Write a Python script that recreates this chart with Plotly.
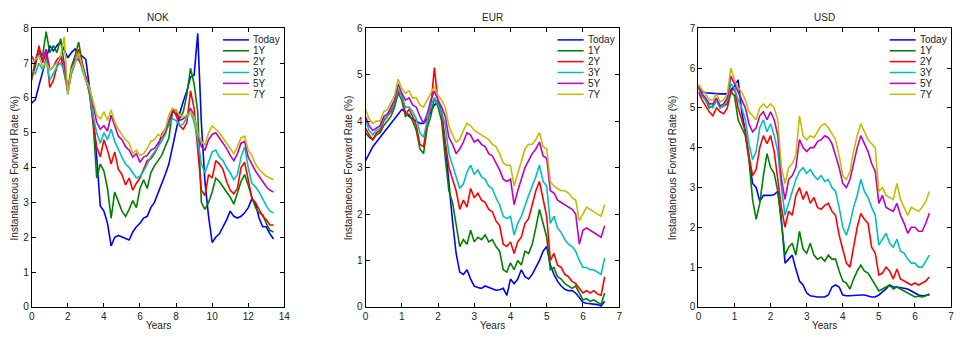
import numpy as np
import plotly.graph_objects as go

# ---------------- data ----------------
series_names = ["Today", "1Y", "2Y", "3Y", "5Y", "7Y"]
series_colors = ["#0000ff", "#008000", "#ff0000", "#00bfbf", "#bf00bf", "#bfbf00"]

panel_titles = ["NOK", "EUR", "USD"]

nok_years = [round(0.2 * i, 1) for i in range(68)]
nok_today = [5.85, 5.95, 6.35, 6.75, 7.15, 7.5, 7.35, 7.5, 7.6, 7.35,
             7.15, 7.3, 7.4, 7.25, 7.2, 7.1, 6.3, 5.5, 4.3, 2.9,
             2.75, 2.4, 1.75, 2.0, 2.05, 2.0, 1.95, 1.92, 2.15, 2.3,
             2.4, 2.55, 2.6, 2.85, 3.0, 3.25, 3.5, 3.8, 4.1, 4.6,
             5.0, 5.55, 5.9, 6.2, 6.6, 6.65, 7.85, 5.3, 3.6, 2.6,
             1.85, 2.0, 2.1, 2.3, 2.5, 2.75, 2.6, 2.55, 2.6, 2.7,
             2.85, 3.1, 2.95, 2.55, 2.3, 2.3, 2.1, 1.95]
nok_1y = [6.5, 7.1, 7.4, 7.2, 7.9, 7.3, 7.5, 7.3, 7.7, 6.9,
          6.2, 6.9, 7.2, 7.6, 7.0, 6.6, 6.1, 5.3, 3.7, 4.1,
          3.9, 3.4, 2.55, 3.3, 3.0, 2.75, 2.6, 2.8, 3.05, 2.85,
          3.4, 3.65, 3.4, 3.85, 4.05, 4.2, 4.35, 4.6, 4.85, 5.6,
          5.55, 5.4, 5.6, 6.1, 6.85, 6.4, 5.6, 3.0, 2.8, 3.0,
          3.3, 3.7, 3.6, 3.45, 3.3, 3.15, 2.95, 3.3, 3.6, 3.8,
          3.5, 3.2, 2.85, 2.7, 2.65, 2.4, 2.2, 2.15]
nok_2y = [6.6, 6.9, 7.5, 7.0, 7.3, 6.3, 6.5, 6.9, 7.2, 6.7,
          6.2, 6.7, 7.0, 7.4, 6.9, 6.5, 6.2, 5.3, 4.6, 4.3,
          4.8, 4.5, 4.1, 4.45, 3.95, 3.8, 3.5, 3.7, 3.35, 3.55,
          3.7, 3.95, 4.2, 4.25, 4.4, 4.6, 4.95, 5.1, 5.2, 5.7,
          5.5, 5.2, 5.1, 5.3, 6.2, 5.7, 4.6, 3.35, 3.2, 3.8,
          3.7, 4.2, 4.1, 3.95, 3.6, 3.35, 3.25, 3.4, 4.0, 4.15,
          3.65, 3.1, 3.0, 2.8, 2.6, 2.5, 2.35, 2.35]
nok_3y = [6.8, 6.7, 7.0, 6.8, 7.1, 6.5, 6.7, 6.9, 7.0, 6.8,
          6.1, 6.7, 7.0, 7.2, 6.8, 6.5, 6.2, 5.5, 5.0, 4.7,
          5.0, 4.8, 5.1, 4.75, 4.5, 4.3, 4.1, 4.0, 3.85, 3.7,
          3.75, 3.9, 4.1, 4.3, 4.45, 4.6, 4.75, 4.95, 5.25, 5.4,
          5.35, 5.2, 5.25, 5.45, 5.6, 5.3, 4.8, 4.1, 3.85, 4.15,
          4.45, 4.5, 4.3, 4.2, 4.0, 3.85, 3.65, 3.8, 4.3, 4.6,
          4.0, 3.55, 3.45, 3.3, 3.1, 2.9, 2.75, 2.7]
nok_5y = [7.2, 7.0, 7.3, 7.1, 7.4, 6.8, 6.9, 7.1, 7.2, 7.0,
          6.2, 6.8, 7.1, 7.1, 6.9, 6.6, 6.3, 5.8, 5.3, 5.1,
          5.2, 5.05, 5.5, 5.2, 4.9, 4.8, 4.6, 4.5, 4.3, 4.4,
          4.15, 4.3, 4.35, 4.5, 4.55, 4.7, 4.85, 5.0, 5.35, 5.6,
          5.65, 5.35, 5.4, 5.5, 5.7, 5.5, 5.0, 4.6, 4.5, 4.8,
          4.95, 5.0, 4.85, 4.7, 4.55, 4.35, 4.2, 4.4, 4.7, 4.75,
          4.3, 4.1, 3.9, 3.75, 3.6, 3.45, 3.35, 3.3]
nok_7y = [7.0, 7.1, 7.2, 6.9, 7.0, 6.8, 6.9, 7.0, 7.2, 7.75,
          6.1, 6.8, 7.0, 7.3, 6.9, 6.5, 6.3, 5.9, 5.5, 5.4,
          5.6, 5.35, 5.65, 5.3, 5.1, 4.95, 4.8, 4.7, 4.4, 4.5,
          4.35, 4.4, 4.55, 4.75, 4.8, 4.95, 4.9, 5.1, 5.5, 5.7,
          5.65, 5.5, 5.45, 5.5, 5.6, 5.45, 5.0, 4.75, 4.65, 5.0,
          5.2, 5.1, 5.0, 4.85, 4.7, 4.55, 4.4, 4.6, 4.85, 4.9,
          4.5, 4.35, 4.1, 3.95, 3.85, 3.75, 3.7, 3.65]

eur_years = [round(0.1 * i, 1) for i in range(67)]
eur_today = [3.15, 3.3, 3.45, 3.55, 3.65, 3.75, 3.85, 3.95, 4.05, 4.15,
             4.25, 4.2, 4.1, 4.05, 4.0, 3.95, 3.95, 4.05, 4.2, 4.35,
             4.4, 4.2, 3.5, 2.6, 1.85, 1.15, 0.75, 0.7, 0.8, 0.6,
             0.45, 0.42, 0.4, 0.45, 0.42, 0.38, 0.36, 0.37, 0.4, 0.25,
             0.6, 0.5, 0.6, 0.8, 0.65, 0.6, 0.7, 0.85, 1.0, 1.2,
             1.3, 0.9, 0.7, 0.55, 0.45, 0.38, 0.35, 0.35, 0.3, 0.2,
             0.1, 0.08, 0.07, 0.06, 0.05, 0.02, 0.12]
eur_1y = [3.75, 3.65, 3.6, 3.7, 3.75, 3.9, 4.0, 4.1, 4.3, 4.6,
          4.45, 4.1, 4.15, 4.0, 3.8, 3.4, 3.3, 3.85, 4.1, 4.5,
          4.3, 4.0, 3.2, 2.5, 2.25, 1.75, 1.3, 1.45, 1.35, 1.65,
          1.4, 1.5, 1.45, 1.55, 1.4, 1.45, 1.3, 1.2, 0.8, 0.75,
          0.95, 0.8, 1.0, 0.9, 1.2, 1.15, 1.35, 1.7, 2.1, 1.8,
          1.5, 0.8, 0.85, 0.65, 0.6, 0.5, 0.45, 0.4, 0.45, 0.3,
          0.15, 0.18, 0.12, 0.15, 0.1, 0.05, 0.3]
eur_2y = [3.85, 3.7, 3.6, 3.75, 3.8, 4.0, 4.1, 4.2, 4.4, 4.65,
          4.55, 4.15, 4.25, 4.1, 3.9, 3.5, 3.45, 3.95, 4.3, 5.15,
          4.4, 4.15, 3.55, 3.0, 2.75, 2.5, 2.1, 2.3, 2.15, 2.55,
          2.35, 2.45, 2.3, 2.25, 2.1, 2.05, 1.85, 1.75, 1.35, 1.3,
          1.4, 1.15, 1.4, 1.5, 1.8, 1.9, 2.2, 2.5, 2.7, 2.3,
          1.95, 1.0, 1.15, 0.9, 0.85, 0.7, 0.65, 0.55, 0.5, 0.4,
          0.3, 0.35, 0.3, 0.35, 0.28, 0.25, 0.65]
eur_3y = [4.0, 3.8, 3.7, 3.8, 3.85, 4.05, 4.1, 4.25, 4.4, 4.7,
          4.55, 4.3, 4.3, 4.2, 4.05, 3.75, 3.65, 4.0, 4.35, 4.5,
          4.35, 4.2, 3.9, 3.3, 3.05, 2.8, 2.55, 2.65, 2.9, 3.05,
          2.85, 2.95, 2.8, 2.75, 2.6, 2.55, 2.35, 2.2, 1.95, 1.9,
          1.95, 1.55, 1.8, 1.95, 2.2, 2.4, 2.6, 2.8, 3.05, 2.7,
          2.6, 1.8, 1.95, 1.7, 1.6, 1.45, 1.35, 1.3, 1.2, 1.0,
          0.85, 0.85, 0.8, 0.8, 0.75, 0.7, 1.05]
eur_5y = [4.1, 3.9, 3.8, 3.85, 3.9, 4.1, 4.15, 4.3, 4.45, 4.8,
          4.6, 4.45, 4.5, 4.35, 4.3, 4.1, 3.95, 4.15, 4.45, 4.65,
          4.45, 4.3, 4.1, 3.65, 3.5, 3.3, 3.4, 3.55, 3.75, 3.7,
          3.55, 3.6, 3.5, 3.45, 3.3, 3.25, 3.1, 2.95, 2.75, 2.7,
          2.75, 2.2, 2.5, 2.75, 3.0, 3.15, 3.3, 3.4, 3.55, 3.25,
          3.2, 2.5, 2.45, 2.3, 2.25, 2.2, 2.15, 2.1, 2.0, 1.35,
          1.65, 1.7, 1.65, 1.6, 1.55, 1.5, 1.75]
eur_7y = [4.25, 4.05, 3.95, 4.0, 4.0, 4.2, 4.25, 4.4, 4.55, 4.9,
          4.7, 4.6, 4.65, 4.5, 4.5, 4.35, 4.3, 4.45, 4.6, 4.75,
          4.55, 4.45, 4.3, 3.9, 3.7, 3.55, 3.6, 3.8, 3.95, 3.9,
          3.8, 3.75, 3.7, 3.65, 3.6, 3.5, 3.45, 3.3, 3.1, 3.05,
          3.05, 2.6, 2.85, 3.1, 3.4, 3.5, 3.5, 3.6, 3.75, 3.45,
          3.4, 2.7, 2.6, 2.55, 2.5, 2.5, 2.45, 2.35, 2.3, 1.85,
          2.0, 2.15, 2.1, 2.05, 2.0, 1.95, 2.2]

usd_years = [round(0.1 * i, 1) for i in range(65)]
usd_today = [5.55, 5.4, 5.38, 5.37, 5.36, 5.36, 5.35, 5.35, 5.35, 5.45,
             5.55, 5.7, 4.9, 4.4, 3.7, 3.1, 3.0, 2.65, 2.8, 2.8,
             2.8, 2.82, 2.9, 2.2, 1.1, 1.2, 1.3, 0.95, 0.65, 0.55,
             0.35, 0.28, 0.26, 0.25, 0.25, 0.25, 0.3, 0.5, 0.55, 0.5,
             0.3, 0.28, 0.28, 0.29, 0.3, 0.3, 0.3, 0.28, 0.25, 0.25,
             0.3, 0.38, 0.45, 0.55, 0.5, 0.5, 0.48, 0.47, 0.45, 0.4,
             0.35, 0.3, 0.28, 0.29, 0.3]
usd_1y = [5.5, 5.3, 5.2, 5.0, 5.05, 5.2, 5.0, 5.05, 5.1, 5.4,
          5.3, 4.7, 4.5, 4.3, 3.7, 2.7, 2.2, 2.6, 3.3, 3.85,
          3.5, 3.35, 2.9, 2.1, 1.3, 1.5, 1.6, 1.3, 1.9, 1.45,
          1.35, 1.6, 1.3, 1.2, 1.25, 1.15, 1.3, 1.2, 1.2, 0.9,
          0.65, 0.6, 0.45, 0.7, 0.9, 1.05, 0.9, 0.85, 0.7, 0.55,
          0.4, 0.45, 0.5, 0.55, 0.45, 0.5, 0.45, 0.4, 0.35, 0.3,
          0.25, 0.27, 0.25, 0.28, 0.33]
usd_2y = [5.4, 5.2, 5.05, 4.9, 4.8, 5.0, 4.9, 4.85, 5.0, 5.4,
          5.5, 5.0, 4.7, 4.4, 3.8, 3.3, 3.45, 4.0, 4.3, 4.1,
          4.3, 3.9, 3.2, 2.5, 2.0, 2.4, 2.3, 2.8, 3.0, 2.7,
          2.9, 2.6, 2.75, 2.5, 2.45, 2.55, 2.6, 2.4, 2.3, 1.8,
          1.45, 1.1, 1.0, 1.5, 2.0, 2.35, 2.2, 2.1, 1.5, 1.35,
          0.8, 0.85, 1.0, 0.9, 0.7, 0.95, 0.7, 0.65, 0.6, 0.55,
          0.6, 0.55, 0.6, 0.65, 0.75]
usd_3y = [5.5, 5.3, 5.2, 5.05, 5.0, 5.2, 5.0, 5.05, 5.2, 5.6,
          5.5, 5.2, 5.0, 4.7, 4.1, 3.7, 3.9, 4.5, 4.7, 4.4,
          4.6, 4.3, 3.9, 3.0, 2.3, 2.6, 2.9, 3.2, 3.4, 3.5,
          3.35, 3.45, 3.3, 3.2, 3.3, 3.15, 3.2, 3.0, 2.9, 2.5,
          2.0, 1.8, 2.1, 2.5, 2.8, 3.2, 2.9, 2.75, 2.5, 2.3,
          1.55, 1.7, 1.85, 1.6, 1.5, 1.7, 1.4, 1.35, 1.2, 1.1,
          1.1, 1.0, 1.0, 1.15, 1.3]
usd_5y = [5.55, 5.35, 5.25, 5.1, 5.1, 5.25, 5.05, 5.1, 5.25, 5.8,
          5.6, 5.4, 5.2, 5.0, 4.6, 4.4, 4.5, 4.8, 4.9, 4.7,
          4.9, 4.7, 4.3, 3.2, 2.7, 3.2, 3.3, 3.5, 4.2, 4.0,
          3.9, 4.0, 4.0, 4.15, 4.2, 4.3, 4.25, 4.1, 3.8, 3.5,
          3.1, 3.0, 3.2, 3.6, 4.0, 4.3, 4.1, 3.9, 3.6, 3.4,
          2.6, 2.8, 2.5, 2.45, 2.4, 2.6, 2.3, 2.1, 1.85, 2.0,
          2.0, 1.9, 1.9, 2.1, 2.35]
usd_7y = [5.6, 5.45, 5.35, 5.2, 5.2, 5.35, 5.15, 5.2, 5.35, 6.0,
          5.7, 5.5, 5.4, 5.2, 4.9, 4.8, 4.7, 5.0, 5.1, 5.0,
          5.1, 5.0, 4.7, 3.5, 3.1, 3.5, 3.6, 3.8, 4.8, 4.3,
          4.2, 4.3, 4.25, 4.4, 4.55, 4.6, 4.5, 4.35, 4.2, 3.8,
          3.3, 3.2, 3.4, 3.9, 4.3, 4.6, 4.4, 4.2, 4.1, 4.0,
          2.9, 3.0, 2.8, 2.75, 2.7, 3.1, 2.7, 2.5, 2.3, 2.5,
          2.45, 2.4, 2.5, 2.65, 2.9]

panels = [
    (nok_years, [nok_today, nok_1y, nok_2y, nok_3y, nok_5y, nok_7y]),
    (eur_years, [eur_today, eur_1y, eur_2y, eur_3y, eur_5y, eur_7y]),
    (usd_years, [usd_today, usd_1y, usd_2y, usd_3y, usd_5y, usd_7y]),
]
x_ranges = [(0, 14, 2), (0, 7, 1), (0, 7, 1)]
y_ranges = [(0, 8, 1), (0, 6, 1), (0, 7, 1)]

# ---------------- layout geometry ----------------
W, H = 960, 338
x_pix = [(29, 284), (366, 622), (702, 957)]
y_top, y_bot = 23, 312
ylabel_px = [12, 349, 676]
FONT = "Liberation Sans, Arial, Helvetica, sans-serif"

fig = go.Figure()
layout = dict(width=W, height=H, margin=dict(l=0, r=0, t=0, b=0),
              paper_bgcolor="white", plot_bgcolor="white", showlegend=False,
              font=dict(family=FONT, size=10, color="#000"))
annotations = []
shapes = []

for p, (years, ser) in enumerate(panels):
    xs = "" if p == 0 else str(p + 1)
    for name, color, vals in zip(series_names, series_colors, ser):
        fig.add_trace(go.Scatter(x=years, y=vals, mode="lines", name=name,
                                 line=dict(color=color, width=1.6),
                                 xaxis="x" + xs, yaxis="y" + xs))
    x0p, x1p = x_pix[p]
    ax = dict(domain=[x0p / W, x1p / W], range=list(x_ranges[p][:2]),
              dtick=x_ranges[p][2], tick0=0, ticks="inside", ticklen=4,
              tickcolor="#000", showline=True, linecolor="#000", linewidth=1,
              mirror="ticks", showgrid=False, zeroline=False,
              tickfont=dict(size=10, color="#222"), anchor="y" + xs)
    ay = dict(domain=[1 - y_bot / H, 1 - y_top / H], range=list(y_ranges[p][:2]),
              dtick=y_ranges[p][2], tick0=0, ticks="inside", ticklen=4,
              tickcolor="#000", showline=True, linecolor="#000", linewidth=1,
              mirror="ticks", showgrid=False, zeroline=False,
              tickfont=dict(size=10, color="#222"), anchor="x" + xs)
    layout["xaxis" + xs] = ax
    layout["yaxis" + xs] = ay

    cx = (x0p + x1p) / 2 / W
    annotations.append(dict(text=panel_titles[p], x=cx, y=1 - 12 / H, xref="paper", yref="paper",
                            showarrow=False, font=dict(size=10, color="#222"),
                            xanchor="center", yanchor="middle"))
    annotations.append(dict(text="Years", x=cx, y=1 - 331 / H, xref="paper", yref="paper",
                            showarrow=False, font=dict(size=10, color="#222"),
                            xanchor="center", yanchor="middle"))
    annotations.append(dict(text="Instantaneous Forward Rate (%)", x=ylabel_px[p] / W,
                            y=1 - (y_top + y_bot) / 2 / H, xref="paper", yref="paper",
                            textangle=-90, showarrow=False, font=dict(size=10, color="#222"),
                            xanchor="center", yanchor="middle"))
    # legend (drawn in axis-domain coordinates)
    for k, (name, color) in enumerate(zip(series_names, series_colors)):
        yy = 0.958 - 0.039 * k
        shapes.append(dict(type="line", xref="x" + xs + " domain", yref="y" + xs + " domain",
                           x0=0.757, x1=0.86, y0=yy, y1=yy,
                           line=dict(color=color, width=1.5)))
        annotations.append(dict(text=name, xref="x" + xs + " domain", yref="y" + xs + " domain",
                                x=0.868, y=yy, showarrow=False, xanchor="left", yanchor="middle",
                                font=dict(size=10, color="#222")))

layout["annotations"] = annotations
layout["shapes"] = shapes
fig.update_layout(**layout)
fig.write_html("out.html")
